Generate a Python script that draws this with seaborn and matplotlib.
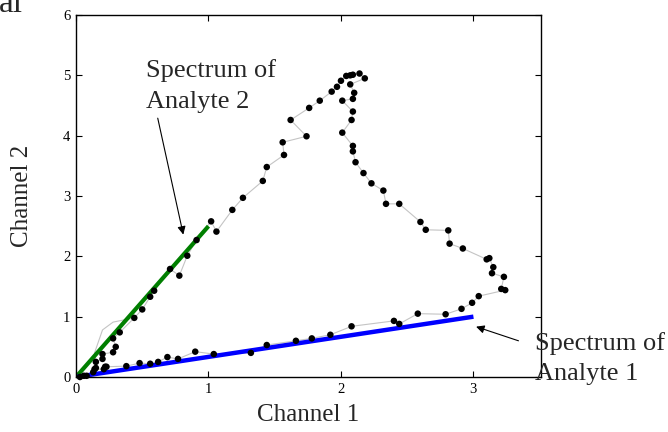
import numpy as np
import pandas as pd
import matplotlib
matplotlib.use("Agg")
import matplotlib.pyplot as plt
import seaborn as sns

# ---- data ----
ch1 = [0.03, 0.06, 0.13, 0.15, 0.15, 0.20, 0.20, 0.28, 0.30, 0.28,
       0.33, 0.44, 0.50, 0.56, 0.59, 0.71, 0.78, 0.84, 0.91, 1.02,
       1.06, 1.18, 1.26, 1.41, 1.44, 1.57, 1.56, 1.74, 1.62, 1.76,
       1.84, 1.93, 1.97, 2.00, 2.04, 2.07, 2.09, 2.14, 2.18, 2.07,
       2.10, 2.09, 2.01, 2.09, 2.08, 2.01, 2.09, 2.09, 2.11, 2.17,
       2.23, 2.32, 2.34, 2.44, 2.60, 2.64, 2.81, 2.82, 2.92, 3.10,
       3.12, 3.15, 3.14, 3.23, 3.21, 3.24, 3.04, 2.99, 2.91, 2.79,
       2.58, 2.44, 2.40, 2.08, 1.92, 1.78, 1.66, 1.44, 1.32, 1.04,
       0.90, 0.77, 0.69, 0.62, 0.56, 0.48, 0.38, 0.23, 0.22, 0.21,
       0.14, 0.08]
ch2 = [0.00, 0.02, 0.08, 0.15, 0.25, 0.30, 0.38, 0.41, 0.50, 0.64,
       0.74, 0.98, 1.12, 1.33, 1.43, 1.79, 1.68, 2.01, 2.27, 2.58,
       2.41, 2.77, 2.97, 3.25, 3.48, 3.68, 3.89, 3.99, 4.26, 4.46,
       4.58, 4.73, 4.81, 4.91, 4.99, 5.00, 5.01, 5.03, 4.95, 4.85,
       4.71, 4.61, 4.58, 4.40, 4.26, 4.05, 3.83, 3.74, 3.56, 3.38,
       3.21, 3.09, 2.87, 2.87, 2.57, 2.44, 2.43, 2.21, 2.13, 1.95,
       1.97, 1.82, 1.72, 1.66, 1.46, 1.44, 1.34, 1.23, 1.13, 1.04,
       1.05, 0.88, 0.93, 0.84, 0.70, 0.64, 0.60, 0.53, 0.40, 0.38,
       0.42, 0.30, 0.33, 0.25, 0.22, 0.23, 0.18, 0.17, 0.17, 0.13,
       0.13, 0.02]

trace_x = [0.15, 0.14, 0.20, 0.28, 0.44]
trace_y = [0.25, 0.40, 0.78, 0.91, 0.98]

spec2_x = [0.0, 1.0]
spec2_y = [0.0, 2.5]
spec1_x = [0.0, 3.0]
spec1_y = [0.0, 1.0]

xticks = [0, 1, 2, 3]
yticks = [0, 1, 2, 3, 4, 5, 6]

df = pd.DataFrame({"Channel 1": ch1, "Channel 2": ch2})

sns.set_style("ticks")
plt.rcParams["font.family"] = ["Liberation Serif", "DejaVu Serif"]

fig = plt.figure(figsize=(6.68, 4.32), dpi=100)
ax = fig.add_axes([76 / 668, 55 / 432, (541 - 76) / 668, (377 - 15) / 432])

sns.lineplot(data=df, x="Channel 1", y="Channel 2", sort=False, estimator=None,
             color="#c4c4c4", linewidth=0.8, ax=ax, zorder=1)
ax.plot(trace_x, trace_y, color="#c4c4c4", linewidth=0.8, zorder=1)
ax.plot(spec2_x, spec2_y, color="#007f00", linewidth=3.0, solid_capstyle="butt", zorder=2)
ax.plot(spec1_x, spec1_y, color="#0000ff", linewidth=3.2, solid_capstyle="butt", zorder=2)
sns.scatterplot(data=df, x="Channel 1", y="Channel 2", color="black", s=22,
                edgecolor="none", ax=ax, zorder=3, clip_on=False)

ax.set_xlim(0, 3.51)
ax.set_ylim(0, 6)
ax.set_xticks(xticks)
ax.set_yticks(yticks)
ax.tick_params(direction="in", length=4, width=0.8, top=True, right=True,
               labelsize=10.5, pad=4, colors="black")
for s in ax.spines.values():
    s.set_linewidth(1.0)
    s.set_color("black")
ax.set_xlabel("Channel 1", fontsize=18, labelpad=6)
ax.set_ylabel("Channel 2", fontsize=18, labelpad=22)

ax.annotate("", xy=(0.81, 2.36), xytext=(0.617, 4.29),
            arrowprops=dict(arrowstyle="-|>", color="black", lw=0.8,
                            mutation_scale=12, shrinkA=0, shrinkB=0))
ax.text(0.529, 4.46, "Spectrum of\nAnalyte 2", fontsize=19, va="baseline", ha="left",
        linespacing=1.5)

ax.annotate("", xy=(3.02, 0.834), xytext=(3.34, 0.60),
            arrowprops=dict(arrowstyle="-|>", color="black", lw=0.8,
                            mutation_scale=12, shrinkA=0, shrinkB=0),
            annotation_clip=False)
ax.text(3.467, -0.05, "Spectrum of\nAnalyte 1", fontsize=19, va="baseline", ha="left",
        linespacing=1.5, clip_on=False)

fig.text(-0.002, 1 - 12 / 432, "al", fontsize=24, va="baseline", ha="left")

fig.savefig("out.png", dpi=100)
